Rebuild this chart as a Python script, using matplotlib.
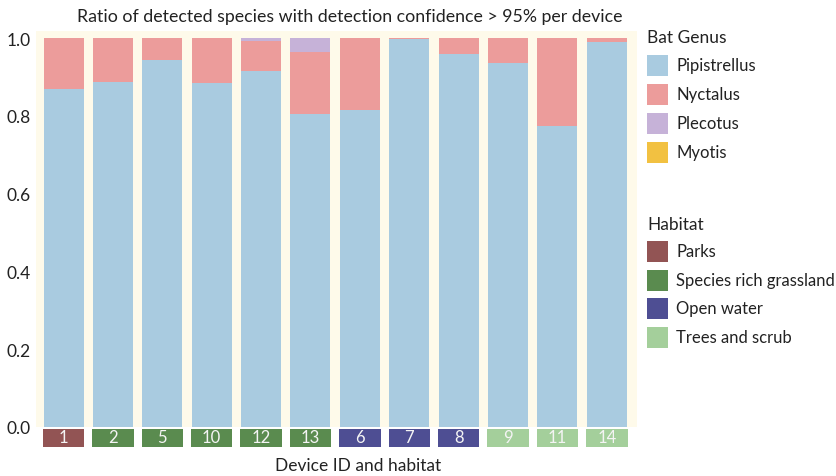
import matplotlib
matplotlib.use("Agg")
import matplotlib.pyplot as plt
from matplotlib.patches import Rectangle
import matplotlib.transforms as mtransforms
import numpy as np

plt.rcParams['font.family'] = ['Lato', 'DejaVu Sans']

devices = ['1', '2', '5', '10', '12', '13', '6', '7', '8', '9', '11', '14']
habitats = ['Parks', 'Species rich grassland', 'Species rich grassland', 'Species rich grassland',
            'Species rich grassland', 'Species rich grassland', 'Open water', 'Open water',
            'Open water', 'Trees and scrub', 'Trees and scrub', 'Trees and scrub']
pipistrellus = [0.870, 0.888, 0.944, 0.884, 0.915, 0.805, 0.815, 0.997, 0.960, 0.935, 0.775, 0.990]
nyctalus     = [0.130, 0.112, 0.056, 0.116, 0.078, 0.160, 0.185, 0.003, 0.040, 0.065, 0.225, 0.010]
plecotus     = [0.000, 0.000, 0.000, 0.000, 0.007, 0.035, 0.000, 0.000, 0.000, 0.000, 0.000, 0.000]
myotis       = [0.000, 0.000, 0.000, 0.000, 0.000, 0.000, 0.000, 0.000, 0.000, 0.000, 0.000, 0.000]

genus_names = ['Pipistrellus', 'Nyctalus', 'Plecotus', 'Myotis']
genus_colors = ['#a9cbe0', '#ec9c9b', '#c6b2d8', '#f2c141']
habitat_names = ['Parks', 'Species rich grassland', 'Open water', 'Trees and scrub']
habitat_colors = ['#925454', '#5a8b4f', '#4e4e93', '#a4cf9b']

W, H = 836, 477
fig = plt.figure(figsize=(W / 100, H / 100), dpi=100)
fig.patch.set_facecolor('white')

def fx(px):
    return px / W

def fy(py):
    return 1 - py / H

ax = fig.add_axes([fx(36), fy(428), fx(637) - fx(36), fy(32) - fy(428)])
ax.set_facecolor('#fefaea')
for s in ax.spines.values():
    s.set_visible(False)

x = np.arange(len(devices))
width = 0.81
bottom = np.zeros(len(devices))
for vals, c in zip([pipistrellus, nyctalus, plecotus, myotis], genus_colors):
    ax.bar(x, vals, width, bottom=bottom, color=c, linewidth=0)
    bottom += np.array(vals)

ax.set_xlim(-0.557, 11.61)
ax.set_ylim(0, 1.018)
ax.set_yticks([0, 0.2, 0.4, 0.6, 0.8, 1.0])
ax.set_yticklabels(['0.0', '0.2', '0.4', '0.6', '0.8', '1.0'], fontsize=12.5, color='#222222')
ax.tick_params(axis='y', length=0, pad=4)
ax.set_xticks([])

# Habitat label boxes below the bars
trans = mtransforms.blended_transform_factory(ax.transData, ax.transAxes)
hab_color = dict(zip(habitat_names, habitat_colors))
box_h = 18 / 396
box_top = -1.5 / 396
for xi, dev, hab in zip(x, devices, habitats):
    ax.add_patch(Rectangle((xi - 0.42, box_top - box_h), 0.84, box_h, transform=trans,
                           facecolor=hab_color[hab], edgecolor='none', clip_on=False))
    ax.text(xi, box_top - box_h / 2, dev, transform=trans, ha='center', va='center',
            color='#f4f4f4', fontsize=12)

fig.text(fx(350), fy(17), 'Ratio of detected species with detection confidence > 95% per device',
         ha='center', va='center', fontsize=12.8, color='#222222')
fig.text(fx(358), fy(466), 'Device ID and habitat', ha='center', va='center',
         fontsize=12.5, color='#222222')

# Legends (drawn manually)
def legend_block(title, title_y, names, colors, ys):
    fig.text(fx(647), fy(title_y), title, ha='left', va='center', fontsize=12.5, color='#222222')
    for n, c, yy in zip(names, colors, ys):
        fig.add_artist(Rectangle((fx(647), fy(yy + 10.5)), fx(21), 21 / H,
                                 transform=fig.transFigure, facecolor=c, edgecolor='none'))
        fig.text(fx(676), fy(yy), n, ha='left', va='center', fontsize=12, color='#222222')

legend_block('Bat Genus', 38, genus_names, genus_colors, [66, 95, 124, 153])
legend_block('Habitat', 225, habitat_names, habitat_colors, [252, 281, 309, 338])

fig.savefig('out.png', dpi=100)
